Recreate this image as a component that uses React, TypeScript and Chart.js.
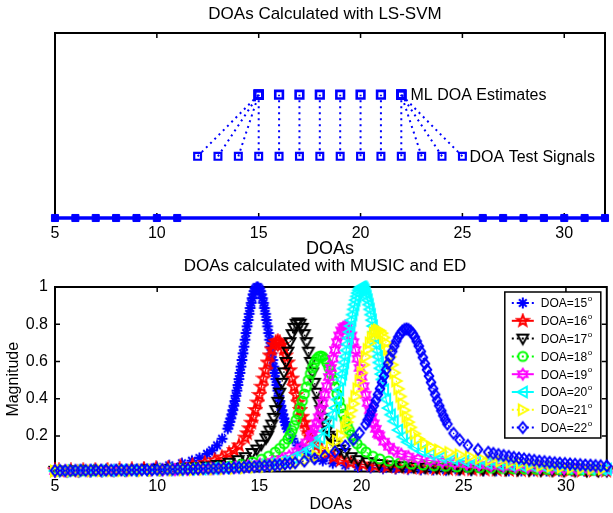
import React, { useEffect, useRef } from "react";
import { Chart, registerables } from "chart.js";

Chart.register(...registerables);

const FONT = '"Liberation Sans", Arial, Helvetica, sans-serif';
const BLUE = "#0000ff";

// ---------------- top plot data ----------------
const TEST_DOAS = [12, 13, 14, 15, 16, 17, 18, 19, 20, 21, 22, 23, 24, 25];
const ML_ESTIMATES = [15, 15, 15, 15, 16, 17, 18, 19, 20, 21, 22, 22, 22, 22];
const OTHER_DOAS = [5, 6, 7, 8, 9, 10, 11, 26, 27, 28, 29, 30, 31, 32];
const LEVEL_BASE = 0;
const LEVEL_TEST = 1;
const LEVEL_ML = 2;
const TOP_Y_RANGE = [0, 3];
const X_RANGE = [5, 32];
const X_TICKS = [5, 10, 15, 20, 25, 30];
const Y_TICKS = [0.2, 0.4, 0.6, 0.8, 1];
const BOTTOM_Y_RANGE = [0.01, 1.0];
const ANNOTATIONS = [
  { text: "ML DOA Estimates", x: 22.45, y: LEVEL_ML },
  { text: "DOA Test Signals", x: 25.35, y: LEVEL_TEST },
];

// ---------------- bottom plot data: [DOA, magnitude] ----------------
const DOA15 = [[5.0,.017],[5.67,.017],[6.29,.019],[6.9,.020],[7.52,.022],[8.13,.024],[8.75,.026],[9.36,.030],[9.98,.035],[10.59,.043],[11.21,.054],[11.7,.068],[12.07,.083],[12.44,.105],[12.69,.124],[12.93,.150],[13.18,.186],
  [13.45,.240],[13.5,.258],[13.55,.276],[13.6,.295],[13.65,.317],[13.7,.339],[13.75,.363],[13.8,.388],[13.85,.416],[13.9,.444],[13.95,.474],[14.0,.506],[14.05,.539],[14.1,.573],[14.15,.608],[14.2,.644],[14.25,.680],[14.3,.717],[14.35,.753],[14.4,.789],[14.45,.823],[14.5,.856],[14.55,.887],[14.6,.915],[14.65,.940],[14.7,.961],[14.75,.978],[14.8,.990],[14.85,.997],[14.9,1.000],
  [14.95,.997],[15.0,.990],[15.05,.978],[15.1,.961],[15.15,.940],[15.2,.915],[15.25,.887],[15.3,.856],[15.35,.823],[15.4,.789],[15.45,.753],[15.5,.717],[15.55,.680],[15.6,.644],[15.65,.608],[15.7,.573],[15.75,.539],[15.8,.506],[15.85,.474],[15.9,.444],[15.95,.416],[16.0,.388],[16.05,.363],[16.1,.339],[16.15,.317],[16.2,.295],[16.25,.276],[16.3,.258],[16.35,.240],
  [16.62,.186],[16.87,.150],[17.11,.124],[17.36,.105],[17.73,.083],[18.1,.068],[18.59,.054],[19.21,.043],[19.82,.035],[20.44,.030],[21.05,.026],[21.67,.024],[22.28,.022],[22.9,.020],[23.51,.019],[24.13,.017],[24.74,.017],[25.36,.016],[25.97,.015],[26.59,.015],[27.2,.014],[27.82,.014],[28.43,.014],[29.05,.013],[29.66,.013],[30.28,.013],[30.89,.013],[31.51,.012],[32.0,.012]];

const DOA16 = [[5.0,.016],[5.19,.016],[5.78,.016],[6.38,.017],[6.97,.018],[7.57,.019],[8.16,.021],[8.76,.022],[9.35,.025],[9.95,.027],[10.54,.031],[11.14,.037],[11.73,.045],[12.33,.056],[12.81,.071],[13.16,.086],[13.52,.107],[13.76,.125],[14.0,.150],
  [14.3,.192],[14.4,.215],[14.5,.242],[14.6,.272],[14.7,.304],[14.8,.340],[14.9,.380],[15.0,.421],[15.1,.465],[15.2,.509],[15.3,.553],[15.4,.595],[15.5,.633],[15.6,.665],[15.7,.689],[15.8,.705],[15.9,.710],
  [16.0,.705],[16.1,.689],[16.2,.665],[16.3,.633],[16.4,.595],[16.5,.553],[16.6,.509],[16.7,.465],[16.8,.421],[16.9,.380],[17.0,.340],[17.1,.304],[17.2,.272],[17.3,.242],[17.4,.215],[17.5,.192],
  [17.8,.150],[18.04,.125],[18.28,.107],[18.64,.086],[18.99,.071],[19.47,.058],[20.07,.048],[20.66,.041],[21.26,.036],[21.85,.032],[22.45,.029],[23.04,.027],[23.64,.025],[24.23,.023],[24.83,.022],[25.42,.021],[26.02,.020],[26.61,.019],[27.21,.018],[27.8,.017],[28.4,.016],[28.99,.016],[29.59,.015],[30.18,.015],[30.78,.014],[31.37,.014],[31.97,.014]];

const DOA17 = [[5.0,.014],[5.6,.015],[6.16,.015],[6.73,.016],[7.29,.016],[7.86,.017],[8.42,.018],[8.99,.019],[9.55,.021],[10.12,.022],[10.68,.025],[11.25,.028],[11.81,.032],[12.38,.037],[12.94,.045],[13.51,.057],[13.96,.071],[14.3,.087],[14.64,.109],[14.87,.128],[15.09,.154],[15.32,.188],
  [15.4,.202],[15.5,.230],[15.6,.262],[15.7,.298],[15.8,.339],[15.9,.384],[16.0,.433],[16.1,.486],[16.2,.542],[16.3,.598],[16.4,.653],[16.5,.704],[16.6,.747],[16.7,.781],[16.8,.803],[16.9,.810],
  [17.0,.803],[17.1,.781],[17.2,.747],[17.3,.704],[17.4,.653],[17.5,.598],[17.6,.542],[17.7,.486],[17.8,.433],[17.9,.384],[18.0,.339],[18.1,.298],[18.2,.262],[18.3,.230],[18.4,.202],
  [18.48,.188],[18.71,.154],[18.93,.128],[19.16,.109],[19.5,.087],[19.84,.071],[20.29,.060],[20.86,.050],[21.42,.043],[21.99,.038],[22.55,.034],[23.12,.031],[23.68,.028],[24.25,.026],[24.81,.024],[25.38,.023],[25.94,.021],[26.51,.020],[27.07,.019],[27.64,.018],[28.2,.017],[28.77,.016],[29.33,.016],[29.9,.015],[30.46,.015],[31.03,.014],[31.59,.014],[32.0,.014]];

const DOA18 = [[5.0,.014],[5.23,.014],[5.79,.014],[6.34,.015],[6.9,.015],[7.45,.016],[8.01,.016],[8.56,.017],[9.12,.018],[9.67,.019],[10.23,.020],[10.78,.022],[11.34,.024],[11.89,.026],[12.45,.029],[13.0,.034],[13.56,.040],[14.11,.048],[14.67,.061],[15.11,.076],[15.45,.092],[15.78,.114],[16.0,.134],[16.22,.159],
  [16.4,.184],[16.5,.206],[16.6,.230],[16.7,.257],[16.8,.286],[16.9,.318],[17.0,.352],[17.1,.388],[17.2,.426],[17.3,.463],[17.4,.500],[17.5,.535],[17.6,.567],[17.7,.593],[17.8,.613],[17.9,.626],[18.0,.630],
  [18.1,.626],[18.2,.613],[18.3,.593],[18.4,.567],[18.5,.535],[18.6,.500],[18.7,.463],[18.8,.426],[18.9,.388],[19.0,.352],[19.1,.318],[19.2,.286],[19.3,.257],[19.4,.230],[19.5,.206],[19.6,.184],
  [19.78,.159],[20.0,.134],[20.22,.114],[20.55,.092],[20.89,.078],[21.33,.066],[21.89,.057],[22.44,.050],[23.0,.045],[23.55,.041],[24.11,.038],[24.66,.035],[25.22,.032],[25.77,.030],[26.33,.028],[26.88,.026],[27.44,.024],[27.99,.023],[28.55,.022],[29.1,.021],[29.66,.020],[30.21,.019],[30.77,.018],[31.32,.017],[31.88,.017]];

const DOA19 = [[5.0,.013],[5.51,.014],[6.11,.014],[6.7,.015],[7.3,.015],[7.89,.016],[8.49,.016],[9.08,.017],[9.68,.018],[10.27,.019],[10.87,.020],[11.46,.022],[12.06,.024],[12.65,.026],[13.25,.029],[13.84,.034],[14.44,.040],[15.03,.049],[15.63,.062],[16.11,.077],[16.46,.094],[16.82,.118],[17.06,.139],[17.3,.166],[17.53,.202],
  [17.6,.212],[17.7,.239],[17.8,.268],[17.9,.301],[18.0,.338],[18.1,.378],[18.2,.422],[18.3,.468],[18.4,.517],[18.5,.566],[18.6,.615],[18.7,.662],[18.8,.704],[18.9,.740],[19.0,.767],[19.1,.784],[19.2,.790],
  [19.3,.784],[19.4,.767],[19.5,.740],[19.6,.704],[19.7,.662],[19.8,.615],[19.9,.566],[20.0,.517],[20.1,.468],[20.2,.422],[20.3,.378],[20.4,.338],[20.5,.301],[20.6,.268],[20.7,.239],[20.8,.212],
  [20.87,.204],[21.1,.170],[21.34,.143],[21.58,.123],[21.94,.103],[22.29,.090],[22.77,.078],[23.37,.068],[23.96,.061],[24.56,.055],[25.15,.050],[25.75,.045],[26.34,.041],[26.94,.037],[27.53,.034],[28.13,.031],[28.72,.029],[29.32,.027],[29.91,.025],[30.51,.023],[31.1,.022],[31.7,.021],[32.0,.020]];

const DOA20 = [[5.0,.014],[5.44,.014],[6.0,.015],[6.56,.015],[7.12,.015],[7.68,.016],[8.24,.017],[8.8,.017],[9.36,.018],[9.92,.019],[10.48,.020],[11.04,.021],[11.6,.023],[12.16,.024],[12.72,.027],[13.28,.029],[13.84,.033],[14.4,.038],[14.96,.044],[15.52,.053],[16.08,.065],[16.64,.084],[17.09,.106],[17.42,.129],[17.76,.161],[17.98,.191],[18.21,.228],[18.43,.277],[18.57,.315],
  [18.7,.351],[18.8,.397],[18.9,.448],[19.0,.504],[19.05,.533],[19.1,.564],[19.15,.595],[19.2,.627],[19.25,.660],[19.3,.693],[19.35,.726],[19.4,.759],[19.45,.791],[19.5,.822],[19.55,.852],[19.6,.880],[19.65,.906],[19.7,.930],[19.75,.950],[19.8,.968],[19.85,.982],[19.9,.992],[19.95,.998],[20.0,1.000],
  [20.05,.998],[20.1,.992],[20.15,.982],[20.2,.968],[20.25,.950],[20.3,.930],[20.35,.906],[20.4,.880],[20.45,.852],[20.5,.822],[20.55,.791],[20.6,.759],[20.65,.726],[20.7,.693],[20.75,.660],[20.8,.627],[20.85,.595],[20.9,.564],[20.95,.533],[21.0,.504],[21.1,.448],[21.2,.397],[21.3,.351],
  [21.43,.315],[21.57,.280],[21.79,.233],[22.02,.197],[22.24,.168],[22.58,.140],[22.91,.120],[23.36,.102],[23.92,.087],[24.48,.076],[25.04,.067],[25.6,.060],[26.16,.054],[26.72,.049],[27.28,.044],[27.84,.040],[28.4,.037],[28.96,.034],[29.52,.031],[30.08,.029],[30.64,.027],[31.2,.025],[31.76,.024],[32.0,.023]];

const DOA21 = [[5.0,.013],[5.3,.014],[5.8,.014],[6.3,.014],[6.8,.014],[7.3,.015],[7.8,.015],[8.3,.015],[8.8,.016],[9.3,.016],[9.8,.017],[10.3,.018],[10.8,.018],[11.3,.019],[11.8,.020],[12.3,.022],[12.8,.023],[13.3,.025],[13.8,.027],[14.3,.030],[14.8,.033],[15.3,.037],[15.8,.042],[16.3,.049],[16.8,.059],[17.3,.073],[17.8,.093],[18.2,.117],[18.5,.141],[18.8,.174],[19.0,.203],
  [19.2,.247],[19.3,.275],[19.4,.305],[19.5,.338],[19.6,.374],[19.7,.413],[19.8,.454],[19.9,.496],[20.0,.540],[20.1,.583],[20.2,.626],[20.3,.665],[20.4,.700],[20.5,.729],[20.6,.752],[20.7,.765],[20.8,.770],
  [20.9,.765],[21.0,.752],[21.1,.729],[21.2,.700],[21.3,.665],[21.4,.626],[21.5,.583],[21.6,.540],[21.7,.496],[21.8,.454],[21.9,.413],[22.0,.374],[22.1,.338],[22.2,.305],[22.3,.275],[22.4,.247],
  [22.6,.213],[22.8,.185],[23.1,.160],[23.4,.142],[23.8,.126],[24.3,.112],[24.8,.100],[25.3,.090],[25.8,.081],[26.3,.073],[26.8,.066],[27.3,.059],[27.8,.053],[28.3,.047],[28.8,.042],[29.3,.038],[29.8,.034],[30.3,.031],[30.8,.028],[31.3,.026],[31.8,.024]];

const DOA22 = [[5.0,.015],[5.25,.015],[5.5,.015],[5.75,.015],[6.0,.016],[6.25,.016],[6.5,.016],[6.75,.016],[7.0,.017],[7.25,.017],[7.5,.017],[7.75,.017],[8.0,.018],[8.25,.018],[8.5,.018],[8.75,.018],[9.0,.019],[9.25,.019],[9.5,.019],[9.75,.019],[10.0,.020],[10.25,.020],[10.5,.021],[10.75,.021],[11.0,.022],[11.25,.022],[11.5,.023],[11.75,.023],[12.0,.024],[12.25,.025],[12.5,.026],[12.75,.026],[13.0,.027],[13.25,.028],[13.5,.029],[13.75,.030],[14.0,.032],[14.25,.033],[14.5,.035],[14.75,.036],[15.0,.038],[15.25,.040],[15.5,.042],[15.75,.044],[16.0,.047],[16.25,.050],[16.5,.054],[16.75,.057],[17.2,.066],[17.7,.078],[18.2,.093],[18.7,.116],[19.2,.147],[19.6,.182],[19.9,.217],
  [20.2,.264],[20.3,.287],[20.4,.310],[20.5,.336],[20.6,.363],[20.7,.392],[20.8,.423],[20.9,.455],[21.0,.488],[21.1,.522],[21.2,.556],[21.3,.589],[21.4,.622],[21.5,.654],[21.6,.683],[21.7,.709],[21.8,.732],[21.9,.750],[22.0,.764],[22.1,.772],[22.2,.775],
  [22.3,.772],[22.4,.764],[22.5,.750],[22.6,.732],[22.7,.709],[22.8,.683],[22.9,.654],[23.0,.622],[23.1,.589],[23.2,.556],[23.3,.522],[23.4,.488],[23.5,.455],[23.6,.423],[23.7,.392],[23.8,.363],[23.9,.336],[24.0,.310],[24.1,.287],[24.2,.264],
  [24.5,.215],[24.8,.180],[25.2,.150],[25.7,.128],[26.2,.113],[26.45,.107],[26.7,.101],[26.95,.096],[27.2,.091],[27.45,.086],[27.7,.082],[27.95,.078],[28.2,.074],[28.45,.070],[28.7,.066],[28.95,.063],[29.2,.060],[29.45,.057],[29.7,.055],[29.95,.053],[30.2,.051],[30.45,.049],[30.7,.047],[30.95,.045],[31.2,.044],[31.45,.042],[31.7,.041],[32.0,.040]];

const LEGEND_DEGREES = ["15", "16", "17", "18", "19", "20", "21", "22"];

type Shape = "asterisk" | "pentagram" | "triDown" | "circle" | "hexagram" | "triLeft" | "triRight" | "diamond";

const CURVES: { pts: number[][]; color: string; shape: Shape; solid: boolean }[] = [
  { pts: DOA15, color: "#0000ff", shape: "asterisk", solid: false },
  { pts: DOA16, color: "#ff0000", shape: "pentagram", solid: true },
  { pts: DOA17, color: "#000000", shape: "triDown", solid: false },
  { pts: DOA18, color: "#00ff00", shape: "circle", solid: false },
  { pts: DOA19, color: "#ff00ff", shape: "hexagram", solid: true },
  { pts: DOA20, color: "#00ffff", shape: "triLeft", solid: true },
  { pts: DOA21, color: "#ffff00", shape: "triRight", solid: false },
  { pts: DOA22, color: "#0000ff", shape: "diamond", solid: false },
];

const MARKER_SIZE = 16;

function starPath(ctx: CanvasRenderingContext2D, m: number, n: number, ro: number, ri: number) {
  for (let k = 0; k < 2 * n; k++) {
    const a = -Math.PI / 2 + (k * Math.PI) / n;
    const r = k % 2 === 0 ? ro : ri;
    const px = m + r * Math.cos(a);
    const py = m + r * Math.sin(a);
    if (k === 0) ctx.moveTo(px, py);
    else ctx.lineTo(px, py);
  }
  ctx.closePath();
}

function makeMarker(shape: Shape, color: string): HTMLCanvasElement {
  const size = MARKER_SIZE;
  const c = document.createElement("canvas");
  c.width = size;
  c.height = size;
  const ctx = c.getContext("2d") as CanvasRenderingContext2D;
  const m = size / 2;
  const r = 5.4;
  ctx.strokeStyle = color;
  ctx.lineWidth = 2;
  ctx.beginPath();
  switch (shape) {
    case "asterisk":
      for (let k = 0; k < 4; k++) {
        const a = (k * Math.PI) / 4;
        ctx.moveTo(m + r * Math.cos(a), m + r * Math.sin(a));
        ctx.lineTo(m - r * Math.cos(a), m - r * Math.sin(a));
      }
      break;
    case "pentagram":
      starPath(ctx, m, 5, r + 0.5, (r + 0.5) * 0.42);
      break;
    case "hexagram":
      starPath(ctx, m, 6, r, r * 0.6);
      break;
    case "triDown":
      ctx.moveTo(m - r, m - 0.75 * r);
      ctx.lineTo(m + r, m - 0.75 * r);
      ctx.lineTo(m, m + r);
      ctx.closePath();
      break;
    case "triLeft":
      ctx.moveTo(m - r, m);
      ctx.lineTo(m + 0.75 * r, m - r);
      ctx.lineTo(m + 0.75 * r, m + r);
      ctx.closePath();
      break;
    case "triRight":
      ctx.moveTo(m + r, m);
      ctx.lineTo(m - 0.75 * r, m - r);
      ctx.lineTo(m - 0.75 * r, m + r);
      ctx.closePath();
      break;
    case "diamond":
      ctx.moveTo(m, m - r);
      ctx.lineTo(m + 0.8 * r, m);
      ctx.lineTo(m, m + r);
      ctx.lineTo(m - 0.8 * r, m);
      ctx.closePath();
      break;
    case "circle":
      ctx.arc(m, m, r * 0.85, 0, Math.PI * 2);
      break;
  }
  ctx.stroke();
  return c;
}

function framePlugin(xTicks: number[], yTicks: number[] | null) {
  return {
    id: "matlabFrame",
    beforeDatasetsDraw(chart: any) {
      const { ctx, chartArea: a, scales } = chart;
      ctx.save();
      ctx.strokeStyle = "#000";
      ctx.lineWidth = 2;
      ctx.strokeRect(a.left, a.top, a.right - a.left, a.bottom - a.top);
      ctx.lineWidth = 1.5;
      ctx.beginPath();
      for (const v of xTicks) {
        const px = scales.x.getPixelForValue(v);
        if (px <= a.left + 1 || px >= a.right - 1) continue;
        ctx.moveTo(px, a.bottom);
        ctx.lineTo(px, a.bottom - 5);
        ctx.moveTo(px, a.top);
        ctx.lineTo(px, a.top + 5);
      }
      if (yTicks) {
        for (const v of yTicks) {
          const py = scales.y.getPixelForValue(v);
          if (py <= a.top + 1 || py >= a.bottom - 1) continue;
          ctx.moveTo(a.left, py);
          ctx.lineTo(a.left + 5, py);
          ctx.moveTo(a.right, py);
          ctx.lineTo(a.right - 5, py);
        }
      }
      ctx.stroke();
      ctx.restore();
    },
  };
}

function titlePlugin(text: string, x: number, y: number) {
  return {
    id: "figTitle",
    afterDraw(chart: any) {
      const ctx = chart.ctx;
      ctx.save();
      ctx.font = `17px ${FONT}`;
      ctx.fillStyle = "#000";
      ctx.textAlign = "center";
      ctx.textBaseline = "middle";
      ctx.fillText(text, x, y);
      ctx.restore();
    },
  };
}

const annotationPlugin = {
  id: "annotations",
  afterDatasetsDraw(chart: any) {
    const { ctx, scales } = chart;
    ctx.save();
    ctx.font = `16px ${FONT}`;
    ctx.fillStyle = "#000";
    ctx.textAlign = "left";
    ctx.textBaseline = "middle";
    for (const a of ANNOTATIONS) {
      ctx.fillText(a.text, scales.x.getPixelForValue(a.x), scales.y.getPixelForValue(a.y) + 1);
    }
    ctx.restore();
  },
};

function legendPlugin(markers: HTMLCanvasElement[]) {
  return {
    id: "boxLegend",
    afterDraw(chart: any) {
      const { ctx, chartArea: a } = chart;
      const bx = a.right - 102;
      const by = a.top + 5;
      const bw = 96;
      const bh = 146;
      ctx.save();
      ctx.fillStyle = "#fff";
      ctx.fillRect(bx, by, bw, bh);
      ctx.strokeStyle = "#000";
      ctx.lineWidth = 1.5;
      ctx.strokeRect(bx, by, bw, bh);
      CURVES.forEach((c, i) => {
        const yy = by + 11 + i * 17.8;
        ctx.strokeStyle = c.color;
        ctx.lineWidth = 2;
        ctx.setLineDash(c.solid ? [] : [2, 3]);
        ctx.beginPath();
        ctx.moveTo(bx + 7, yy);
        ctx.lineTo(bx + 29, yy);
        ctx.stroke();
        ctx.setLineDash([]);
        ctx.drawImage(markers[i], bx + 18 - MARKER_SIZE / 2, yy - MARKER_SIZE / 2);
        ctx.fillStyle = "#000";
        ctx.font = `12px ${FONT}`;
        ctx.textAlign = "left";
        ctx.textBaseline = "middle";
        const t = `DOA=${LEGEND_DEGREES[i]}`;
        ctx.fillText(t, bx + 36, yy + 1);
        const w = ctx.measureText(t).width;
        ctx.font = `8px ${FONT}`;
        ctx.fillText("o", bx + 36 + w + 0.5, yy - 4);
      });
      ctx.restore();
    },
  };
}

const tickFont = { family: FONT, size: 16 };

function TopChart() {
  const ref = useRef<HTMLCanvasElement>(null);
  useEffect(() => {
    const datasets: any[] = [];
    TEST_DOAS.forEach((t, i) => {
      datasets.push({
        data: [
          { x: t, y: LEVEL_TEST },
          { x: ML_ESTIMATES[i], y: LEVEL_ML },
        ],
        showLine: true,
        borderColor: BLUE,
        borderWidth: 2,
        borderDash: [2, 4],
        pointRadius: 0,
        clip: false,
        order: 4,
      });
    });
    datasets.push({
      data: TEST_DOAS.map((x) => ({ x, y: LEVEL_TEST })),
      showLine: false,
      pointStyle: "rect",
      pointRadius: 4.8,
      pointBorderWidth: 2.2,
      pointBorderColor: BLUE,
      pointBackgroundColor: "rgba(0,0,0,0)",
      clip: false,
      order: 3,
    });
    datasets.push({
      data: ML_ESTIMATES.map((x) => ({ x, y: LEVEL_ML })),
      showLine: false,
      pointStyle: "rect",
      pointRadius: 5.4,
      pointBorderWidth: 2.6,
      pointBorderColor: BLUE,
      pointBackgroundColor: "rgba(0,0,0,0)",
      clip: false,
      order: 2,
    });
    datasets.push({
      data: OTHER_DOAS.map((x) => ({ x, y: LEVEL_BASE })),
      showLine: true,
      borderColor: BLUE,
      borderWidth: 3.5,
      pointStyle: "rect",
      pointRadius: 5,
      pointBorderWidth: 1,
      pointBorderColor: BLUE,
      pointBackgroundColor: BLUE,
      clip: false,
      order: 1,
    });
    const chart = new Chart(ref.current as HTMLCanvasElement, {
      type: "scatter",
      data: { datasets },
      options: {
        animation: false,
        responsive: false,
        maintainAspectRatio: false,
        events: [],
        layout: { padding: { left: 55, right: 2, top: 33, bottom: 0 } },
        plugins: { legend: { display: false }, tooltip: { enabled: false }, title: { display: false } },
        scales: {
          x: {
            type: "linear",
            min: X_RANGE[0],
            max: X_RANGE[1],
            afterBuildTicks: (s: any) => {
              s.ticks = X_TICKS.map((v) => ({ value: v }));
            },
            afterFit: (s: any) => {
              s.height = 40;
            },
            grid: { display: false, drawTicks: false },
            border: { display: false },
            ticks: { font: tickFont, color: "#000", padding: 6, maxRotation: 0, autoSkip: false },
            title: { display: true, text: "DOAs", color: "#000", font: { family: FONT, size: 18, lineHeight: 1 }, padding: 0 },
          },
          y: { type: "linear", min: TOP_Y_RANGE[0], max: TOP_Y_RANGE[1], display: false },
        },
      } as any,
      plugins: [framePlugin(X_TICKS, null), annotationPlugin, titlePlugin("DOAs Calculated with LS-SVM", 325, 14)],
    });
    return () => chart.destroy();
  }, []);
  return <canvas ref={ref} width={613} height={258} style={{ position: "absolute", left: 0, top: 0 }} />;
}

function BottomChart() {
  const ref = useRef<HTMLCanvasElement>(null);
  useEffect(() => {
    const markers = CURVES.map((c) => makeMarker(c.shape, c.color));
    const datasets = CURVES.map((c, i) => ({
      label: `DOA=${LEGEND_DEGREES[i]}`,
      data: c.pts.map((p) => ({ x: p[0], y: p[1] })),
      showLine: true,
      borderColor: c.color,
      borderWidth: 1.2,
      borderDash: c.solid ? [] : [1.5, 3],
      pointStyle: markers[i],
      pointRadius: 5,
      clip: false,
      order: CURVES.length - i,
    }));
    const chart = new Chart(ref.current as HTMLCanvasElement, {
      type: "scatter",
      data: { datasets },
      options: {
        animation: false,
        responsive: false,
        maintainAspectRatio: false,
        events: [],
        layout: { padding: { left: 0, right: 2, top: 31, bottom: 0 } },
        plugins: { legend: { display: false }, tooltip: { enabled: false }, title: { display: false } },
        scales: {
          x: {
            type: "linear",
            min: X_RANGE[0],
            max: X_RANGE[1],
            afterBuildTicks: (s: any) => {
              s.ticks = X_TICKS.map((v) => ({ value: v }));
            },
            afterFit: (s: any) => {
              s.height = 41.5;
            },
            grid: { display: false, drawTicks: false },
            border: { display: false },
            ticks: { font: tickFont, color: "#000", padding: 5, maxRotation: 0, autoSkip: false },
            title: { display: true, text: "DOAs", color: "#000", font: { family: FONT, size: 16, lineHeight: 1 }, padding: 0 },
          },
          y: {
            type: "linear",
            min: BOTTOM_Y_RANGE[0],
            max: BOTTOM_Y_RANGE[1],
            afterBuildTicks: (s: any) => {
              s.ticks = Y_TICKS.map((v) => ({ value: v }));
            },
            afterFit: (s: any) => {
              s.width = 55;
            },
            grid: { display: false, drawTicks: false },
            border: { display: false },
            ticks: { font: tickFont, color: "#000", padding: 7, callback: (v: any) => String(v) },
            title: { display: true, text: "Magnitude", color: "#000", font: { family: FONT, size: 16, lineHeight: 1 }, padding: { top: 6, bottom: 0 } },
          },
        },
      } as any,
      plugins: [framePlugin(X_TICKS, Y_TICKS), legendPlugin(markers), titlePlugin("DOAs calculated with MUSIC and ED", 325, 10)],
    });
    return () => chart.destroy();
  }, []);
  return <canvas ref={ref} width={613} height={257} style={{ position: "absolute", left: 0, top: 256 }} />;
}

export default function App() {
  return (
    <div style={{ position: "fixed", left: 0, top: 0, width: 613, height: 513, background: "#fff", overflow: "hidden" }}>
      <TopChart />
      <BottomChart />
    </div>
  );
}
